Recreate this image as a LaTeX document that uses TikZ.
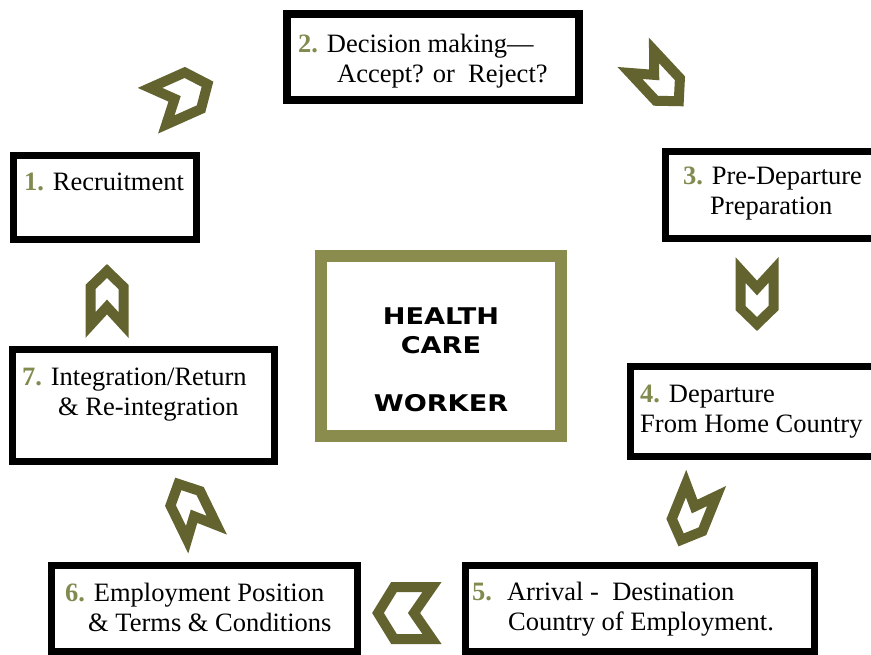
\documentclass[tikz,border=0pt]{standalone}
\usepackage{fontspec}
\setmainfont{Liberation Serif}
\newfontfamily\hcwfont[FakeStretch=1.18]{DejaVu Sans}
\usetikzlibrary{positioning}

\definecolor{numolive}{RGB}{128,139,80}
\definecolor{arrowolive}{RGB}{99,99,48}
\definecolor{boxolive}{RGB}{138,140,78}

\newcommand{\stagenum}[1]{{\bfseries\color{numolive}#1}}

\tikzstyle{stagebox} = [rectangle, 
draw=black, 
line width=7pt, 
inner sep=0pt]
\tikzstyle{stagetext} = [inner sep=0pt, 
align=left, 
font=\fontsize{26.5}{30}\selectfont]
\tikzstyle{centerbox} = [rectangle, 
draw=boxolive, 
line width=12pt, 
minimum width=240pt, 
minimum height=180pt]
\tikzstyle{centertext} = [inner sep=0pt, 
align=center, 
font=\hcwfont\bfseries\fontsize{23}{29}\selectfont]
\tikzstyle{chevronline} = [draw=arrowolive, line width=10pt, line join=miter]

\tikzset{pics/chevron/.style={code={
  \draw [chevronline] (-25,#1) -- (-7,0) -- (-25,-#1) -- (13,-#1) -- (29,0) -- (13,#1) -- cycle;
}}}

\begin{document}
\begin{tikzpicture}[x=1pt, y=-1pt]
    \clip (0,0) rectangle (871,655);

    \node (b1) [stagebox, minimum width=183pt, minimum height=84pt] at (105,197.5) {};
    \node (b2) [stagebox, line width=8pt, minimum width=292pt, minimum height=86pt] at (433,57) {};
    \node (b3) [stagebox, minimum width=209pt, minimum height=87pt] at (770,195) {};
    \node (b4) [stagebox, minimum width=244pt, minimum height=90pt] at (752.5,411.5) {};
    \node (b5) [stagebox, minimum width=349pt, minimum height=86pt] at (640,608.5) {};
    \node (b6) [stagebox, minimum width=306pt, minimum height=86pt] at (204.5,608.5) {};
    \node (b7) [stagebox, minimum width=262pt, minimum height=112pt] at (143.5,405.5) {};
    \node (hcw) [centerbox] at (441,346) {};

    \node (t1) [stagetext, below right=21pt and 14pt of b1.north west] {\stagenum{1.} Recruitment};
    \node (t2) [stagetext, below right=24pt and 15pt of b2.north west] {\stagenum{2.} Decision making---\\
    \hspace*{39pt}Accept? or~ Reject?};
    \node (t3) [stagetext, below right=19pt and 21pt of b3.north west] {\stagenum{3.} Pre-Departure\\
    \hspace*{27pt}Preparation};
    \node (t4) [stagetext, below right=22pt and 13pt of b4.north west] {\stagenum{4.} Departure\\
    From Home Country};
    \node (t5) [stagetext, below right=20pt and 10pt of b5.north west] {\stagenum{5.}\hspace{15pt}Arrival -~~Destination\\
    \hspace*{36pt}Country of Employment.};
    \node (t6) [stagetext, below right=21pt and 17pt of b6.north west] {\stagenum{6.} Employment Position\\
    \hspace*{23pt}\& Terms \& Conditions};
    \node (t7) [stagetext, below right=22pt and 13pt of b7.north west] {\stagenum{7.} Integration/Return\\
    \hspace*{36pt}\& Re-integration};

    \node (hcwtext) [centertext, below=58pt of hcw.north] {HEALTH\\CARE\\[29pt]WORKER};

    % arrows between the stages
    \coordinate (c12) at (181,96);
    \coordinate (c23) at (659,80);
    \coordinate (c34) at (757,295);
    \coordinate (c45) at (692,513);
    \coordinate (c56) at (407,613);
    \coordinate (c67) at (191,510);
    \coordinate (c71) at (107,300);
    \pic [rotate=24] at (c12) {chevron=20};
    \pic [rotate=-47] at (c23) {chevron=16.5};
    \pic [rotate=-90] at (c34) {chevron=16.5};
    \pic [rotate=-112] at (c45) {chevron=16.5};
    \pic [rotate=180] at (c56) {chevron=26};
    \pic [rotate=116] at (c67) {chevron=16.5};
    \pic [rotate=90] at (c71) {chevron=16.5};
\end{tikzpicture}
\end{document}
